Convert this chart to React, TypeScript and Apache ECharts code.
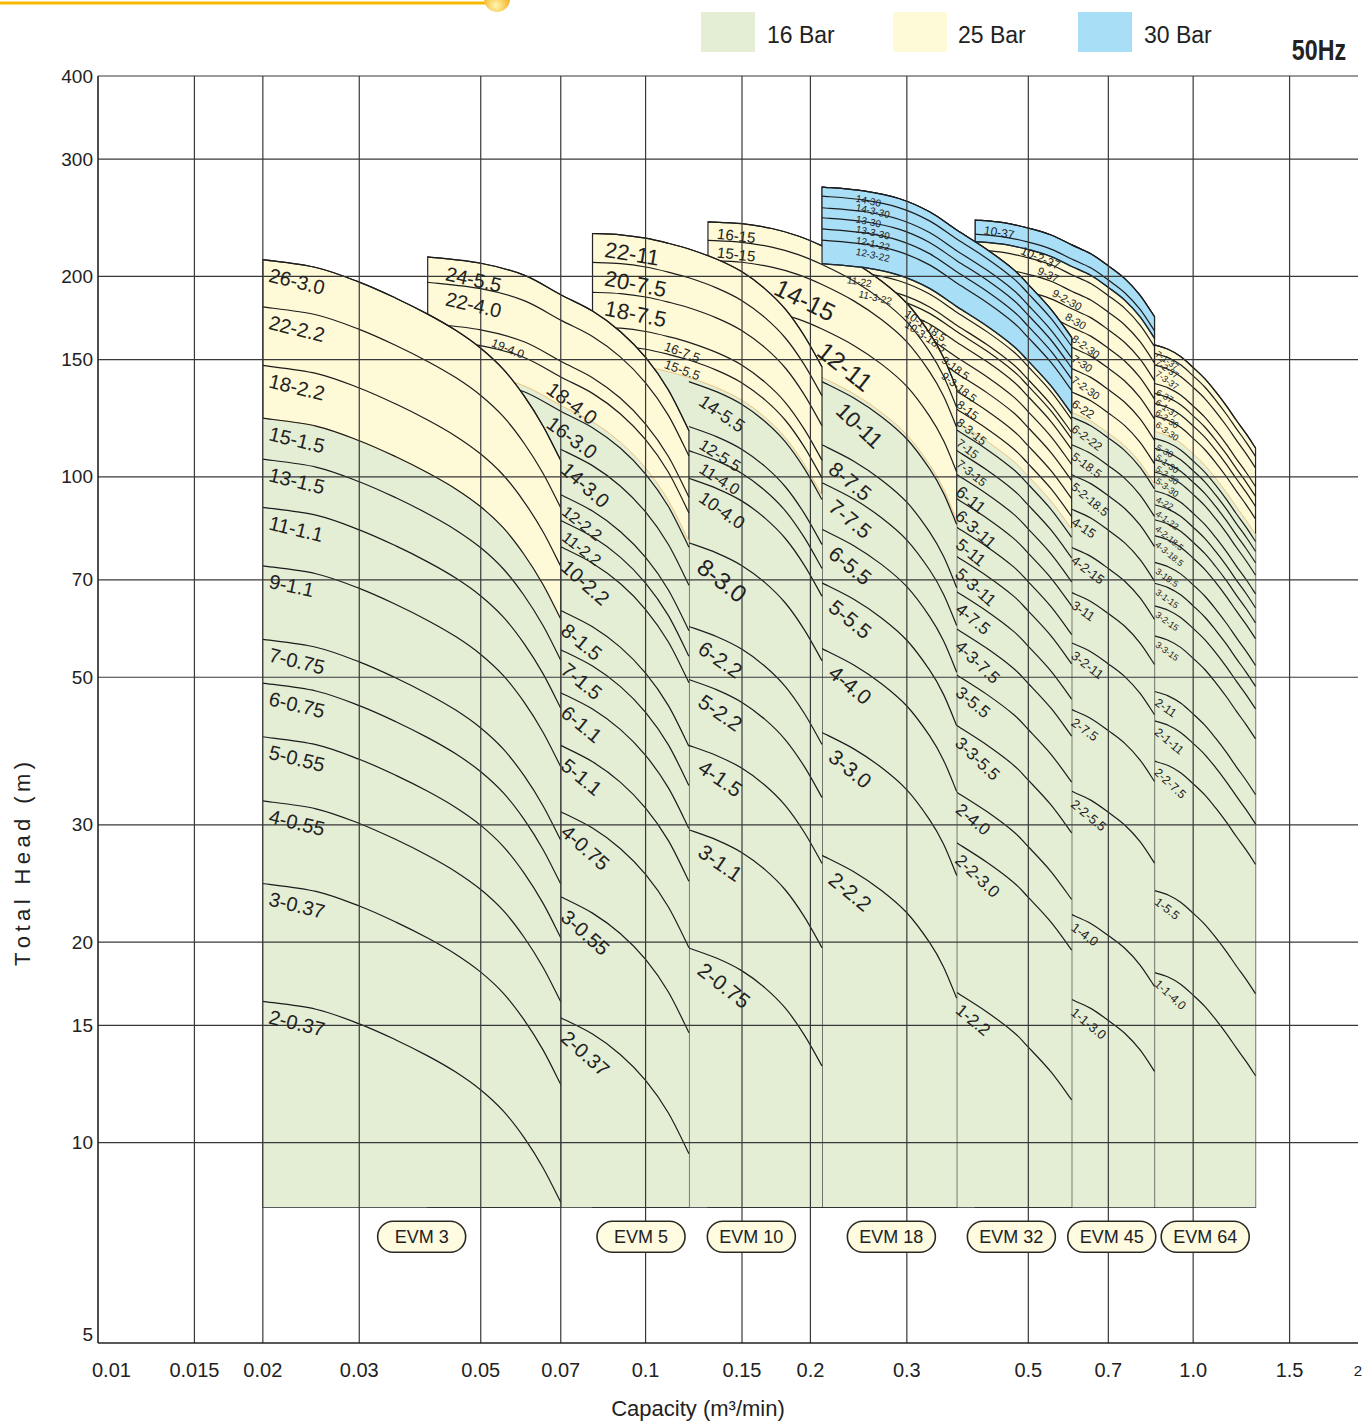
import React, { useEffect, useRef } from "react";
import * as echarts from "echarts";

// ---------------- axes ----------------
const X_MIN = 0.01;
const X_MAX = 2;
const Y_MIN = 5;
const Y_MAX = 400;
const FLOOR = 8; // lower edge of the curve fields (m)

const xGridValues = [0.015, 0.02, 0.03, 0.05, 0.07, 0.1, 0.15, 0.2, 0.3, 0.5, 0.7, 1.0, 1.5];
const xTickValues = [0.01, 0.015, 0.02, 0.03, 0.05, 0.07, 0.1, 0.15, 0.2, 0.3, 0.5, 0.7, 1.0, 1.5, 2];
const xTickLabels = ["0.01", "0.015", "0.02", "0.03", "0.05", "0.07", "0.1", "0.15", "0.2", "0.3", "0.5", "0.7", "1.0", "1.5", "2"];
const yTickValues = [400, 300, 200, 150, 100, 70, 50, 30, 20, 15, 10, 5];
const yTickLabels = ["400", "300", "200", "150", "100", "70", "50", "30", "20", "15", "10", "5"];

// curve: [model, start capacity (m3/min), head at start (m)]
type Curve = [string, number, number];

// ---------------- EVM 3 ----------------
const evm3Q = [0.02, 0.025, 0.03, 0.035, 0.04, 0.045, 0.05, 0.055, 0.06, 0.065, 0.07];
const evm3Ratio = [1, 0.973, 0.925, 0.875, 0.828, 0.783, 0.736, 0.684, 0.624, 0.562, 0.499];
const evm3Curves: Curve[] = [
  ["26-3.0", 0.02, 212], ["22-2.2", 0.02, 180], ["18-2.2", 0.02, 147], ["15-1.5", 0.02, 122.5],
  ["13-1.5", 0.02, 106.3], ["11-1.1", 0.02, 90], ["9-1.1", 0.02, 73.5], ["7-0.75", 0.02, 57],
  ["6-0.75", 0.02, 49], ["5-0.55", 0.02, 40.7], ["4-0.55", 0.02, 32.6], ["3-0.37", 0.02, 24.5],
  ["2-0.37", 0.02, 16.3],
];
const evm3Green: [number, number] = [0.02, 122.5];

// ---------------- EVM 5 ----------------
const evm5Q = [0.04, 0.05, 0.06, 0.07, 0.08, 0.09, 0.1, 0.11, 0.12];
const evm5Ratio = [1.14, 1.115, 1.07, 1, 0.945, 0.88, 0.805, 0.72, 0.625];
const evm5Curves: Curve[] = [
  ["24-5.5", 0.04, 214], ["22-4.0", 0.04, 196], ["19-4.0", 0.04, 170], ["18-4.0", 0.04, 161],
  ["16-3.0", 0.04, 143], ["14-3.0", 0.07, 110], ["12-2.2", 0.07, 94], ["11-2.2", 0.07, 86],
  ["10-2.2", 0.07, 78.5], ["8-1.5", 0.07, 63], ["7-1.5", 0.07, 55], ["6-1.1", 0.07, 47.4],
  ["5-1.1", 0.07, 39.5], ["4-0.75", 0.07, 31.4], ["3-0.55", 0.07, 23.4], ["2-0.37", 0.07, 15.4],
];
const evm5Green: [number, number] = [0.07, 128];

// ---------------- EVM 10 ----------------
const evm10Q = [0.08, 0.09, 0.1, 0.11, 0.12, 0.135, 0.15, 0.165, 0.18, 0.195, 0.21];
const evm10Ratio = [1.055, 1.05, 1.038, 1.02, 1, 0.965, 0.924, 0.872, 0.812, 0.74, 0.665];
const evm10Curves: Curve[] = [
  ["22-11", 0.08, 232], ["20-7.5", 0.08, 210], ["18-7.5", 0.08, 189.3], ["16-7.5", 0.08, 168],
  ["15-5.5", 0.08, 158], ["14-5.5", 0.12, 139], ["12-5.5", 0.12, 119], ["11-4.0", 0.12, 109.5],
  ["10-4.0", 0.12, 99.5], ["8-3.0", 0.12, 79.6], ["6-2.2", 0.12, 59.6], ["5-2.2", 0.12, 49.6],
  ["4-1.5", 0.12, 39.5], ["3-1.1", 0.12, 29.5], ["2-0.75", 0.12, 19.6],
];
const evm10Green: [number, number] = [0.12, 141];

// ---------------- EVM 18 ----------------
const evm18Q = [0.13, 0.15, 0.17, 0.19, 0.21, 0.24, 0.27, 0.3, 0.33, 0.35, 0.37];
const evm18Ratio = [1.087, 1.08, 1.062, 1.035, 1, 0.945, 0.885, 0.82, 0.74, 0.68, 0.61];
const evm18Curves: Curve[] = [
  ["16-15", 0.13, 241.6], ["15-15", 0.13, 226.5], ["14-15", 0.13, 211.4], ["12-11", 0.13, 181.2],
  ["10-11", 0.21, 139], ["8-7.5", 0.21, 111.7], ["7-7.5", 0.21, 98], ["6-5.5", 0.21, 83.4],
  ["5-5.5", 0.21, 69.3], ["4-4.0", 0.21, 55.2], ["3-3.0", 0.21, 41.3], ["2-2.2", 0.21, 27],
];
const evm18Green: [number, number] = [0.21, 141];

// ---------------- EVM 32 ----------------
const evm32Q = [0.21, 0.25, 0.29, 0.33, 0.37, 0.42, 0.47, 0.5, 0.55, 0.6];
const evm32Ratio = [1.16, 1.145, 1.115, 1.065, 1, 0.935, 0.872, 0.828, 0.76, 0.69];
const evm32Curves: Curve[] = [
  ["14-30", 0.21, 272.4], ["14-3-30", 0.21, 264], ["13-30", 0.21, 253.6], ["13-3-30", 0.21, 245],
  ["12-1-22", 0.21, 235.7], ["12-3-22", 0.21, 226.7], ["11-22", 0.21, 205], ["11-3-22", 0.21, 196],
  ["10-1-18.5", 0.21, 191.7], ["10-3-18.5", 0.21, 184.8], ["9-18.5", 0.21, 175.4], ["9-3-18.5", 0.21, 166],
  ["8-15", 0.37, 134.4], ["8-3-15", 0.37, 126.3], ["7-15", 0.37, 117.6], ["7-3-15", 0.37, 109.5],
  ["6-11", 0.37, 100.8], ["6-3-11", 0.37, 92.7], ["5-11", 0.37, 84], ["5-3-11", 0.37, 75.9],
  ["4-7.5", 0.37, 67.2], ["4-3-7.5", 0.37, 59.1], ["3-5.5", 0.37, 50.4], ["3-3-5.5", 0.37, 42.3],
  ["2-4.0", 0.37, 33.6], ["2-2-3.0", 0.37, 28.2], ["1-2.2", 0.37, 16.8],
];
const evm32Green: [number, number] = [0.37, 121];
const evm32Blue: [number, number] = [0.21, 209];

// ---------------- EVM 45 ----------------
const evm45Q = [0.4, 0.45, 0.5, 0.55, 0.6, 0.65, 0.7, 0.75, 0.8, 0.85];
const evm45Ratio = [1.09, 1.08, 1.06, 1.035, 1, 0.97, 0.93, 0.89, 0.84, 0.78];
const evm45Curves: Curve[] = [
  ["10-37", 0.4, 243.1], ["10-2-37", 0.4, 231.5], ["9-37", 0.4, 219.3], ["9-2-30", 0.4, 207.1],
  ["8-30", 0.4, 194.9], ["8-2-30", 0.4, 182.8], ["7-30", 0.4, 170.6], ["7-2-30", 0.4, 158.5],
  ["6-22", 0.6, 134.1], ["6-2-22", 0.6, 123], ["5-18.5", 0.6, 111.75], ["5-2-18.5", 0.6, 100.7],
  ["4-15", 0.6, 89.4], ["4-2-15", 0.6, 78.3], ["3-11", 0.6, 67], ["3-2-11", 0.6, 56.3],
  ["2-7.5", 0.6, 44.7], ["2-2-5.5", 0.6, 33.7], ["1-4.0", 0.6, 22], ["1-1-3.0", 0.6, 16.4],
];
const evm45Green: [number, number] = [0.6, 125];
const evm45Blue: [number, number] = [0.6, 207];

// ---------------- EVM 64 ----------------
const evm64Q = [0.85, 0.9, 0.95, 1.0, 1.05, 1.1, 1.15, 1.2, 1.25, 1.3];
const evm64Ratio = [1, 0.985, 0.96, 0.925, 0.89, 0.85, 0.81, 0.77, 0.735, 0.7];
const evm64Curves: Curve[] = [
  ["7-1-37", 0.85, 157.8], ["7-2-37", 0.85, 153.3], ["7-3-37", 0.85, 147.3], ["6-37", 0.85, 138.1],
  ["6-1-37", 0.85, 133.5], ["6-2-30", 0.85, 128.9], ["6-3-30", 0.85, 123.5], ["5-30", 0.85, 114.2],
  ["5-1-30", 0.85, 110.4], ["5-2-30", 0.85, 106.1], ["5-3-30", 0.85, 101.7], ["4-22", 0.85, 95.3],
  ["4-1-22", 0.85, 90.8], ["4-2-18.5", 0.85, 86.2], ["4-3-18.5", 0.85, 81.6], ["3-18.5", 0.85, 74.4],
  ["3-1-15", 0.85, 69.2], ["3-2-15", 0.85, 64], ["3-3-15", 0.85, 57.7], ["2-11", 0.85, 47.6],
  ["2-1-11", 0.85, 43], ["2-2-7.5", 0.85, 37.4], ["1-5.5", 0.85, 23.9], ["1-1-4.0", 0.85, 18],
];
const evm64Green: [number, number] = [0.85, 117];

// ---------------- label placement (capacity where the label starts, font px) ----------------
const evm3LabelAt = evm3Curves.map(() => [0.0206, 20]);
const evm5LabelAt = [
  [0.0433, 20], [0.0433, 20], [0.0526, 12], [0.0671, 20], [0.0671, 20], [0.0715, 20], [0.0715, 16], [0.0715, 16],
  [0.0715, 20], [0.0715, 20], [0.0715, 20], [0.0715, 20], [0.0715, 20], [0.0715, 20], [0.0715, 20], [0.0715, 20],
];
const evm10LabelAt = [
  [0.0845, 22], [0.0845, 22], [0.0845, 22], [0.1088, 13], [0.1088, 13], [0.127, 18], [0.127, 16], [0.127, 16],
  [0.127, 18], [0.127, 24], [0.127, 21], [0.127, 21], [0.127, 21], [0.127, 21], [0.127, 21],
];
const evm18LabelAt = [
  [0.1353, 15], [0.1353, 15], [0.1741, 25], [0.2104, 25], [0.2279, 22], [0.2203, 21], [0.2203, 21], [0.2203, 21],
  [0.2203, 21], [0.2203, 21], [0.2203, 21], [0.2203, 21],
];
const evm32LabelAt = [
  [0.2427, 10], [0.2427, 10], [0.2427, 10], [0.2427, 10], [0.2427, 10], [0.2427, 10], [0.2337, 10], [0.2458, 10],
  [0.3006, 11], [0.3006, 11], [0.3512, 11], [0.3512, 11], [0.374, 12], [0.374, 12], [0.374, 12], [0.374, 12],
  [0.374, 17], [0.374, 17], [0.374, 17], [0.374, 17], [0.374, 17], [0.374, 17], [0.374, 17], [0.374, 17],
  [0.374, 17], [0.374, 17], [0.374, 17],
];
const evm45LabelAt = [
  [0.4156, 12], [0.4875, 12], [0.5236, 11], [0.5577, 11], [0.589, 11], [0.6066, 11], [0.6066, 11], [0.6066, 11],
  [0.6066, 12], [0.6066, 12], [0.6066, 12], [0.6066, 12], [0.6066, 13], [0.6066, 13], [0.6066, 13], [0.6066, 13],
  [0.6066, 13], [0.6066, 13], [0.6066, 13], [0.6066, 13],
];
const evm64LabelAt = evm64Curves.map((c, i) => [0.862, i >= 19 ? 12 : 9]);

const pillNames = ["EVM 3", "EVM 5", "EVM 10", "EVM 18", "EVM 32", "EVM 45", "EVM 64"];
const pillQ = [0.039, 0.0981, 0.156, 0.2811, 0.4656, 0.7101, 1.052];
const PILL_HEAD = 7.22;

// ---------------- styling ----------------
const FONT = "'Liberation Sans', Arial, Helvetica, sans-serif";
const GREEN = "#e4eed5";
const YELLOW = "#fef9d6";
const BLUE = "#a9def7";
const INK = "#1c1c1c";

type Fam = {
  q: number[];
  r: number[];
  curves: Curve[];
  labels: number[][];
  green: [number, number] | null;
  blue: [number, number] | null;
  blueCount: number;
};

const F3: Fam = { q: evm3Q, r: evm3Ratio, curves: evm3Curves, labels: evm3LabelAt, green: evm3Green, blue: null, blueCount: 0 };
const F5: Fam = { q: evm5Q, r: evm5Ratio, curves: evm5Curves, labels: evm5LabelAt, green: evm5Green, blue: null, blueCount: 0 };
const F10: Fam = { q: evm10Q, r: evm10Ratio, curves: evm10Curves, labels: evm10LabelAt, green: evm10Green, blue: null, blueCount: 0 };
const F18: Fam = { q: evm18Q, r: evm18Ratio, curves: evm18Curves, labels: evm18LabelAt, green: evm18Green, blue: null, blueCount: 0 };
const F32: Fam = { q: evm32Q, r: evm32Ratio, curves: evm32Curves, labels: evm32LabelAt, green: evm32Green, blue: evm32Blue, blueCount: 6 };
const F45: Fam = { q: evm45Q, r: evm45Ratio, curves: evm45Curves, labels: evm45LabelAt, green: evm45Green, blue: evm45Blue, blueCount: 2 };
const F64: Fam = { q: evm64Q, r: evm64Ratio, curves: evm64Curves, labels: evm64LabelAt, green: evm64Green, blue: null, blueCount: 0 };
const ALL_FAMS = [F3, F5, F10, F18, F32, F45, F64];

const lg = Math.log10;

function ratioAt(f: Fam, Q: number): number {
  const n = f.q.length;
  if (Q <= f.q[0]) return f.r[0];
  if (Q >= f.q[n - 1]) return f.r[n - 1];
  for (let i = 0; i < n - 1; i++) {
    if (Q <= f.q[i + 1]) {
      const a = lg(f.q[i]);
      const b = lg(f.q[i + 1]);
      const t = (lg(Q) - a) / (b - a);
      return Math.pow(10, lg(f.r[i]) + t * (lg(f.r[i + 1]) - lg(f.r[i])));
    }
  }
  return f.r[n - 1];
}

// nodes of one curve in data units, cut at the field floor
function curveNodes(f: Fam, startQ: number, refQ: number, head: number): number[][] {
  const scale = head / ratioAt(f, refQ);
  const pts: number[][] = [];
  for (let i = 0; i < f.q.length; i++) {
    if (f.q[i] < startQ - 1e-9) continue;
    const h = scale * f.r[i];
    if (h < FLOOR) {
      if (pts.length) {
        const [pq, ph] = pts[pts.length - 1];
        const t = (lg(FLOOR) - lg(ph)) / (lg(h) - lg(ph));
        pts.push([Math.pow(10, lg(pq) + t * (lg(f.q[i]) - lg(pq))), FLOOR]);
      }
      break;
    }
    pts.push([f.q[i], h]);
  }
  return pts;
}

// smooth SVG path through pixel points
function crPath(pts: number[][], move: boolean): string {
  if (!pts.length) return "";
  let d = (move ? "M" : "L") + pts[0][0].toFixed(2) + "," + pts[0][1].toFixed(2);
  for (let i = 0; i < pts.length - 1; i++) {
    const p0 = pts[i - 1] || pts[i];
    const p1 = pts[i];
    const p2 = pts[i + 1];
    const p3 = pts[i + 2] || p2;
    const c1x = p1[0] + (p2[0] - p0[0]) / 6;
    const c1y = p1[1] + (p2[1] - p0[1]) / 6;
    const c2x = p2[0] - (p3[0] - p1[0]) / 6;
    const c2y = p2[1] - (p3[1] - p1[1]) / 6;
    d += ` C${c1x.toFixed(2)},${c1y.toFixed(2)} ${c2x.toFixed(2)},${c2y.toFixed(2)} ${p2[0].toFixed(2)},${p2[1].toFixed(2)}`;
  }
  return d;
}

function makeP(api: any) {
  return (q: number, h: number): number[] => api.coord([lg(q), lg(h)]);
}

function layerSeries(f: Fam, part: "all" | "base" | "blue") {
  return {
    type: "custom",
    coordinateSystem: "cartesian2d",
    silent: true,
    data: [[-1, 1]],
    renderItem: (params: any, api: any) => {
      const P = makeP(api);
      const toPx = (pts: number[][]) => pts.map(([q, h]) => P(q, h));
      const xU = f.q[0];
      const xR = f.q[f.q.length - 1];
      const ch: any[] = [];
      const top = f.curves[0];
      const topPts = toPx(curveNodes(f, top[1], top[1], top[2]));
      const b1 = P(xR, FLOOR);
      const b0 = P(xU, FLOOR);
      const tail = ` L${b1[0]},${b1[1]} L${b0[0]},${b0[1]} Z`;
      if (part !== "blue") {
        ch.push({ type: "path", shape: { pathData: crPath(topPts, true) + tail }, style: { fill: YELLOW, stroke: "#262626", lineWidth: 1.2 } });
        if (f.green) {
          const g = toPx(curveNodes(f, xU, f.green[0], f.green[1]));
          ch.push({ type: "path", shape: { pathData: crPath(g, true) + tail }, style: { fill: GREEN, stroke: null } });
          ch.push({ type: "path", shape: { pathData: crPath(g, true) }, style: { fill: null, stroke: "#efc27e", lineWidth: 1 } });
        }
      }
      let bl: number[][] = [];
      if (f.blue && part !== "base") {
        bl = toPx(curveNodes(f, xU, f.blue[0], f.blue[1]));
        ch.push({
          type: "path",
          shape: { pathData: crPath(topPts, true) + " " + crPath(bl.slice().reverse(), false) + " Z" },
          style: { fill: BLUE, stroke: "#262626", lineWidth: 1.2 },
        });
      }
      f.curves.forEach((c, i) => {
        const isBlue = i < f.blueCount;
        if (part === "base" && isBlue) return;
        if (part === "blue" && !isBlue) return;
        const pts = toPx(curveNodes(f, c[1], c[1], c[2]));
        if (pts.length < 2) return;
        ch.push({ type: "path", shape: { pathData: crPath(pts, true) }, style: { fill: null, stroke: INK, lineWidth: 1.2 } });
      });
      if (bl.length) {
        ch.push({ type: "path", shape: { pathData: crPath(bl, true) }, style: { fill: null, stroke: "#1a2a38", lineWidth: 1.3 } });
      }
      return { type: "group", children: ch };
    },
  };
}

function gridSeries() {
  return {
    type: "custom",
    coordinateSystem: "cartesian2d",
    silent: true,
    data: [[-1, 1]],
    renderItem: (params: any, api: any) => {
      const P = makeP(api);
      const ch: any[] = [];
      const line = (a: number[], b: number[], w: number, c: string) => ({
        type: "line",
        shape: { x1: a[0], y1: a[1], x2: b[0], y2: b[1] },
        style: { stroke: c, lineWidth: w },
      });
      xGridValues.forEach((q) => ch.push(line(P(q, Y_MAX), P(q, Y_MIN), 1.2, "#383838")));
      yTickValues.forEach((h) => {
        if (h === Y_MIN) return;
        ch.push(line(P(X_MIN, h), P(X_MAX, h), 1.2, "#383838"));
      });
      ch.push(line(P(X_MIN, Y_MAX), P(X_MIN, Y_MIN), 1.6, "#222"));
      ch.push(line(P(X_MIN, Y_MIN), P(X_MAX, Y_MIN), 1.6, "#222"));
      xTickValues.forEach((q, i) => {
        const p = P(q, Y_MIN);
        const first = i === 0;
        const last = i === xTickValues.length - 1;
        ch.push({
          type: "text",
          x: first ? p[0] - 6 : p[0],
          y: p[1] + 27,
          style: {
            text: xTickLabels[i], fill: "#222", fontSize: last ? 15 : 20, fontFamily: FONT,
            align: first ? "left" : "center", verticalAlign: "middle",
            textAlign: first ? "left" : "center", textVerticalAlign: "middle",
          },
        });
      });
      yTickValues.forEach((h, i) => {
        const p = P(X_MIN, h);
        const bottom = h === Y_MIN;
        ch.push({
          type: "text",
          x: p[0] - 5,
          y: bottom ? p[1] + 1 : p[1],
          style: {
            text: yTickLabels[i], fill: "#222", fontSize: 19, fontFamily: FONT,
            align: "right", verticalAlign: bottom ? "bottom" : "middle",
            textAlign: "right", textVerticalAlign: bottom ? "bottom" : "middle",
          },
        });
      });
      return { type: "group", children: ch };
    },
  };
}

function labelSeries() {
  return {
    type: "custom",
    coordinateSystem: "cartesian2d",
    silent: true,
    data: [[-1, 1]],
    renderItem: (params: any, api: any) => {
      const P = makeP(api);
      const ch: any[] = [];
      ALL_FAMS.forEach((f) => {
        const xR = f.q[f.q.length - 1];
        f.curves.forEach((c, i) => {
          const [text, sq, head] = c;
          const [lq0, fs] = f.labels[i];
          const scale = head / ratioAt(f, sq);
          const span = fs * 0.56 * text.length;
          const angleAt = (lq: number) => {
            const q2 = Math.min(lq * Math.pow(10, span / 548), xR);
            const a1 = P(lq, scale * ratioAt(f, lq));
            const a2 = P(q2, scale * ratioAt(f, q2));
            return Math.min(1.2, Math.atan2(a2[1] - a1[1], a2[0] - a1[0]) * 1.12);
          };
          let a = angleAt(lq0);
          // push the anchor right so the rotated text clears the left edge
          const lq = lq0 * Math.pow(10, (Math.sin(a) * fs * 0.6) / 548);
          a = angleAt(lq);
          const p1 = P(lq, scale * ratioAt(f, lq));
          const off = 2 + fs * 0.1;
          ch.push({
            type: "text",
            x: p1[0] - Math.sin(a) * off,
            y: p1[1] + Math.cos(a) * off,
            rotation: -a,
            style: {
              text, fill: "#222", fontSize: fs, fontFamily: FONT,
              align: "left", verticalAlign: "top", textAlign: "left", textVerticalAlign: "top",
            },
          });
        });
      });
      return { type: "group", children: ch };
    },
  };
}

function pillSeries() {
  return {
    type: "custom",
    coordinateSystem: "cartesian2d",
    silent: true,
    data: [[-1, 1]],
    renderItem: (params: any, api: any) => {
      const P = makeP(api);
      const ch: any[] = [];
      pillNames.forEach((name, i) => {
        const p = P(pillQ[i], PILL_HEAD);
        ch.push({
          type: "rect",
          shape: { x: p[0] - 44, y: p[1] - 15.5, width: 88, height: 31, r: 15.5 },
          style: { fill: "#fefbe1", stroke: "#2a2a22", lineWidth: 1.6 },
        });
        ch.push({
          type: "text",
          x: p[0],
          y: p[1] + 0.5,
          style: {
            text: name, fill: "#222", fontSize: 18, fontFamily: FONT,
            align: "center", verticalAlign: "middle", textAlign: "center", textVerticalAlign: "middle",
          },
        });
      });
      return { type: "group", children: ch };
    },
  };
}

function spaced(s: string): string {
  return s.split("").join("\u2009");
}

function buildOption(): any {
  const series: any[] = [
    layerSeries(F64, "all"),
    layerSeries(F45, "all"),
    layerSeries(F32, "base"),
    layerSeries(F18, "all"),
    layerSeries(F10, "all"),
    layerSeries(F5, "all"),
    layerSeries(F3, "all"),
    layerSeries(F32, "blue"),
    gridSeries(),
    labelSeries(),
    pillSeries(),
  ];
  const txt = (x: number, y: number, text: string, extra: any = {}) => ({
    type: "text",
    x,
    y,
    silent: true,
    style: Object.assign(
      { text, fill: "#222", fontSize: 23, fontFamily: FONT, align: "left", verticalAlign: "middle", textAlign: "left", textVerticalAlign: "middle" },
      extra
    ),
  });
  const fiftyHz: any = txt(1346, 50, "50Hz", {
    fontWeight: "bold",
    fontSize: 29,
    align: "right",
    textAlign: "right",
  });
  fiftyHz.scaleX = 0.8;
  return {
    animation: false,
    backgroundColor: "#ffffff",
    grid: { left: 98, right: 6, top: 76, bottom: 78 },
    xAxis: { type: "value", min: lg(X_MIN), max: lg(X_MAX), show: false },
    yAxis: { type: "value", min: lg(Y_MIN), max: lg(Y_MAX), show: false },
    series,
    graphic: [
      { type: "line", silent: true, shape: { x1: 0, y1: 3, x2: 486, y2: 3 }, style: { stroke: "#f6b800", lineWidth: 3 } },
      {
        type: "circle",
        silent: true,
        shape: { cx: 497, cy: -1, r: 13 },
        style: {
          fill: new echarts.graphic.RadialGradient(0.45, 0.75, 0.7, [
            { offset: 0, color: "#fff6b0" },
            { offset: 1, color: "#f3a000" },
          ]),
        },
      },
      { type: "rect", silent: true, shape: { x: 701, y: 12, width: 54, height: 40 }, style: { fill: GREEN } },
      txt(767, 35, "16 Bar"),
      { type: "rect", silent: true, shape: { x: 893, y: 12, width: 54, height: 40 }, style: { fill: YELLOW } },
      txt(958, 35, "25 Bar"),
      { type: "rect", silent: true, shape: { x: 1078, y: 12, width: 54, height: 40 }, style: { fill: BLUE } },
      txt(1144, 35, "30 Bar"),
      fiftyHz,
      {
        type: "text",
        x: 22,
        y: 864,
        rotation: Math.PI / 2,
        silent: true,
        style: {
          text: spaced("Total Head (m)"), fill: "#222", fontSize: 22, fontFamily: FONT,
          align: "center", verticalAlign: "middle", textAlign: "center", textVerticalAlign: "middle",
        },
      },
      txt(698, 1408, "Capacity (m³/min)", { fontSize: 22, align: "center", textAlign: "center" }),
    ],
  };
}

export default function App() {
  const ref = useRef<HTMLDivElement>(null);
  useEffect(() => {
    if (!ref.current) return;
    const chart = echarts.init(ref.current, null, { renderer: "svg" });
    chart.setOption(buildOption());
    return () => chart.dispose();
  }, []);
  return (
    <div
      ref={ref}
      style={{ position: "absolute", left: 0, top: 0, width: 1364, height: 1421, background: "#ffffff" }}
    />
  );
}
